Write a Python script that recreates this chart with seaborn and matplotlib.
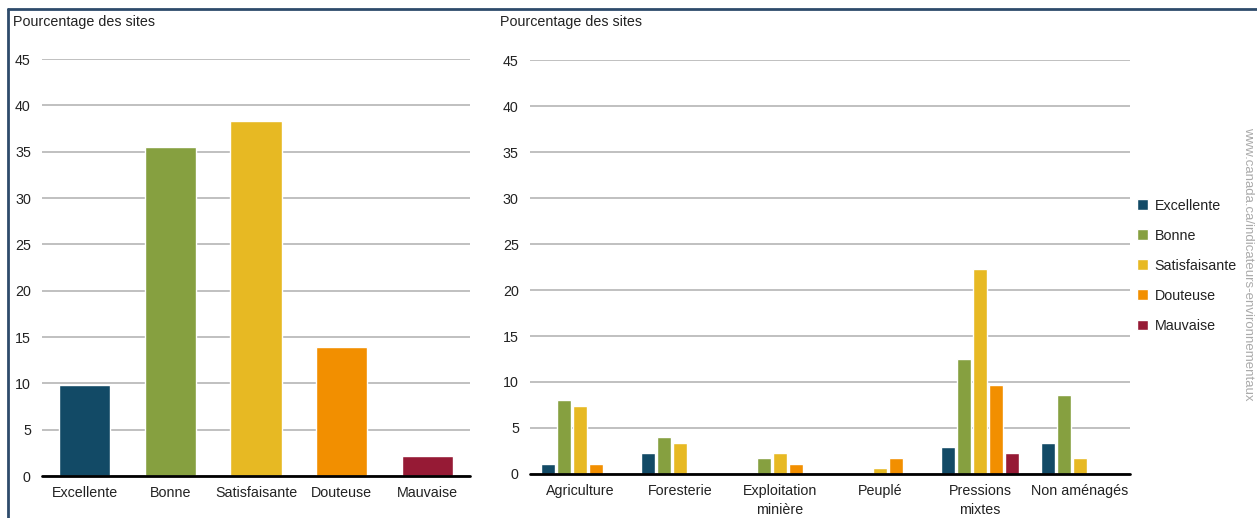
import pandas as pd
import seaborn as sns
import matplotlib.pyplot as plt
from matplotlib.lines import Line2D

# qualite de l'eau - all sites
qualities = ["Excellente", "Bonne", "Satisfaisante", "Douteuse", "Mauvaise"]
overall_pct = [9.8, 35.5, 38.3, 13.9, 2.2]

# by land-use pressure (missing = no bar)
land_uses = ["Agriculture", "Foresterie", "Exploitation\nminière", "Peuplé",
             "Pressions\nmixtes", "Non aménagés"]
excellente_pct = [1.1, 2.3, None, None, 2.9, 3.4]
bonne_pct = [8.0, 4.0, 1.7, None, 12.5, 8.6]
satisfaisante_pct = [7.4, 3.4, 2.3, 0.6, 22.3, 1.7]
douteuse_pct = [1.1, None, 1.1, 1.7, 9.7, None]
mauvaise_pct = [None, None, None, None, 2.3, None]

colors = ["#124a66", "#86a040", "#e7b923", "#f28f00", "#961a35"]
yticks = list(range(0, 50, 5))

sns.set_style("white")
plt.rcParams["font.family"] = ["Liberation Sans", "DejaVu Sans"]
FS = 10.3
TXT = "#222222"

# long format for the grouped chart, dropping missing values
rows = []
for q, vals in zip(qualities, [excellente_pct, bonne_pct, satisfaisante_pct,
                               douteuse_pct, mauvaise_pct]):
    for lu, v in zip(land_uses, vals):
        if v is not None:
            rows.append({"use": lu, "quality": q, "pct": v})
df_uses = pd.DataFrame(rows)
df_all = pd.DataFrame({"quality": qualities, "pct": overall_pct})

fig = plt.figure(figsize=(12.57, 5.18), dpi=100)
ax1 = fig.add_axes([0.0334, 0.081, 0.3405, 0.805])
ax2 = fig.add_axes([0.4216, 0.085, 0.4773, 0.799])

sns.barplot(data=df_all, x="quality", y="pct", hue="quality", order=qualities,
            hue_order=qualities, palette=colors, width=0.6, legend=False,
            saturation=1, ax=ax1)
sns.barplot(data=df_uses, x="use", y="pct", hue="quality", order=land_uses,
            hue_order=qualities, palette=colors, width=0.8, gap=0.1,
            saturation=1, errorbar=None, ax=ax2)

for ax, n in ((ax1, len(qualities)), (ax2, len(land_uses))):
    ax.set_ylim(0, 45)
    ax.set_yticks(yticks)
    ax.set_xlim(-0.5, n - 0.5)
    ax.yaxis.grid(True, color="#bbbbbb", linewidth=1.3)
    ax.set_axisbelow(True)
    for s in ax.spines.values():
        s.set_visible(False)
    ax.axhline(0, color="black", linewidth=2, clip_on=False, zorder=5)
    ax.tick_params(axis="both", length=0, labelcolor=TXT, labelsize=FS)
    ax.tick_params(axis="y", pad=8)
    ax.tick_params(axis="x", pad=7)
    ax.set_xlabel("")
    ax.set_ylabel("")

for lbl in ax2.get_xticklabels():
    lbl.set_linespacing(1.45)

fig.text(13 / 1257, 1 - 22 / 518, "Pourcentage des sites", ha="left",
         va="center", color=TXT, fontsize=FS)
fig.text(500 / 1257, 1 - 22 / 518, "Pourcentage des sites", ha="left",
         va="center", color=TXT, fontsize=FS)

ax2.get_legend().remove()
handles, labels = ax2.get_legend_handles_labels()
fig.legend(handles, labels, loc="upper left",
           bbox_to_anchor=(1124 / 1257, 1 - 186 / 518), frameon=False,
           handlelength=0.8, handleheight=0.8, handletextpad=0.45,
           labelspacing=1.12, fontsize=FS, labelcolor=TXT)

fig.text(1248 / 1257, 1 - 264 / 518, "www.canada.ca/indicateurs-environnementaux",
         rotation=-90, ha="center", va="center", color="#aaaaaa", fontsize=9.5)

# frame on top and left edges
fig.add_artist(Line2D([8 / 1257, 1], [1 - 9 / 518, 1 - 9 / 518],
                      color="#2e4b6b", linewidth=2, transform=fig.transFigure))
fig.add_artist(Line2D([8 / 1257, 8 / 1257], [0, 1 - 9 / 518],
                      color="#2e4b6b", linewidth=2, transform=fig.transFigure))

fig.savefig("out.png", dpi=100, facecolor="white")
